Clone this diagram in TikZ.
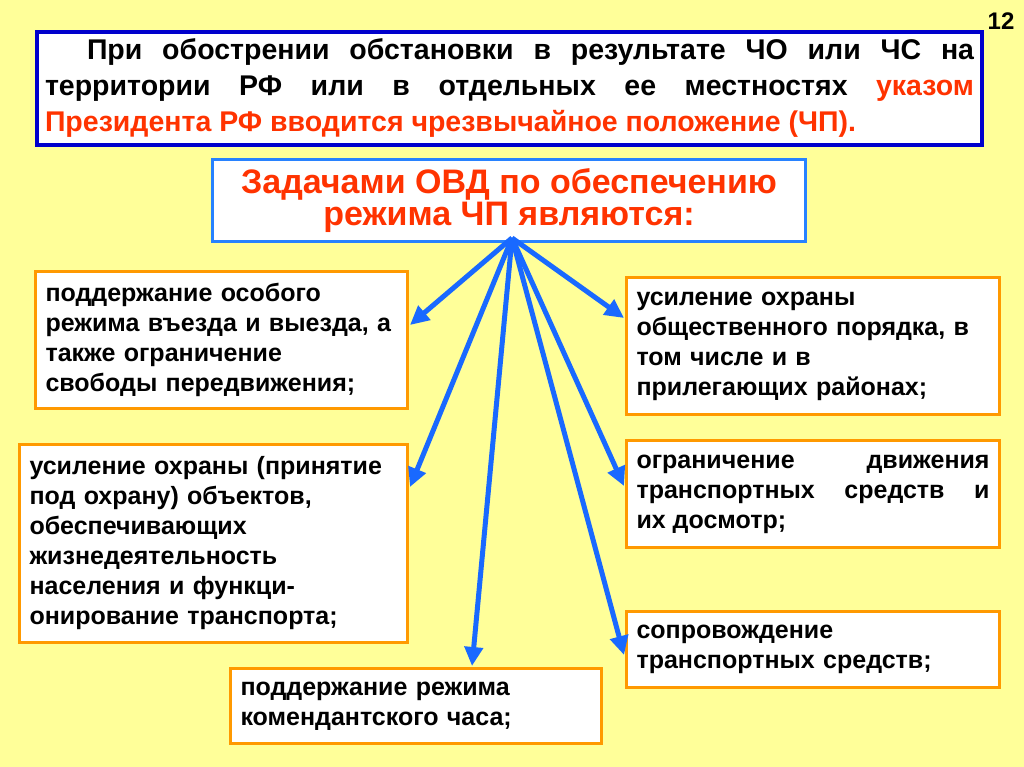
\documentclass[tikz,border=0pt]{standalone}
\usepackage{fontspec}
\setmainfont{Liberation Sans}
\usepackage{tikz}
\usetikzlibrary{positioning,arrows.meta,calc}

\definecolor{slidebg}{RGB}{255,255,153}
\definecolor{darkframe}{RGB}{0,0,204}
\definecolor{titleframe}{RGB}{40,130,255}
\definecolor{arrowblue}{RGB}{25,105,255}
\definecolor{boxorange}{RGB}{255,153,0}
\definecolor{alertred}{RGB}{255,51,0}

\begin{document}
\begin{tikzpicture}[
  x=1pt, y=-1pt,
  font=\bfseries,
  taskbox/.style={draw=boxorange, line width=3pt, fill=white, anchor=north west,
    inner xsep=10pt, inner ysep=0pt, align=left,
    font=\bfseries\fontsize{25}{30}\selectfont},
  feed/.style={draw=arrowblue, line width=5pt, -{Triangle[length=19pt,width=18pt]}}
]
\fill[slidebg] (0,0) rectangle (1024,767);
\useasboundingbox (0,0) rectangle (1024,767);

\node[font=\bfseries\fontsize{24}{26}\selectfont] (num) at (1001,21) {12};

\node[draw=darkframe, line width=4pt, fill=white, anchor=north west,
  minimum height=113pt, text width=929pt, inner xsep=8pt, inner ysep=0pt, align=justify,
  font=\bfseries\fontsize{28.5}{36}\selectfont] (intro) at (35,30)
  {\hspace*{42pt}При обострении обстановки в результате ЧО или ЧС на\linebreak
   территории РФ или в отдельных ее местностях \textcolor{alertred}{указом\linebreak
   Президента РФ вводится чрезвычайное положение (ЧП).}};

\node[draw=titleframe, line width=3pt, fill=white, anchor=north west,
  minimum width=593pt, minimum height=82pt, inner sep=0pt, align=center, text=alertred,
  font=\bfseries\fontsize{34}{32}\selectfont] (title) at (211,158)
  {Задачами ОВД по обеспечению\\режима ЧП являются:};

% left column
\node[taskbox, text width=352pt, minimum height=137pt] (entry) at (34,270)
  {поддержание особого\\режима въезда и выезда, а\\также ограничение\\свободы передвижения;};
\node[taskbox, text width=368pt, minimum height=198pt] (guard) at (18,443)
  {усиление охраны (принятие\\под охрану) объектов,\\обеспечивающих\\жизнедеятельность\\населения и функци-\\онирование транспорта;};
\node[taskbox, text width=351pt, minimum height=75pt] (curfew) at (229,667)
  {поддержание режима\\комендантского часа;};

% right column
\node[taskbox, text width=353pt, minimum height=137pt] (order) at (625,276)
  {усиление охраны\\общественного порядка, в\\том числе и в\\прилегающих районах;};
\node[taskbox, text width=353pt, minimum height=107pt, align=justify] (traffic) at (625,439)
  {ограничение движения\linebreak транспортных средств и\linebreak их досмотр;};
\node[taskbox, text width=353pt, minimum height=76pt] (escort) at (625,610)
  {сопровождение\\транспортных средств;};

\coordinate (hub) at (512,238);
\draw[feed] (hub) -- ($(entry.north east)+(1,55)$);
\draw[feed] (hub) -- ($(guard.north east)+(1,44)$);
\draw[feed] (hub) -- ($(curfew.north west)+(243,-1)$);
\draw[feed] (hub) -- ($(order.north west)+(-1,42)$);
\draw[feed] (hub) -- ($(traffic.north west)+(-1,47)$);
\draw[feed] (hub) -- ($(escort.north west)+(-1,45)$);
\end{tikzpicture}
\end{document}
